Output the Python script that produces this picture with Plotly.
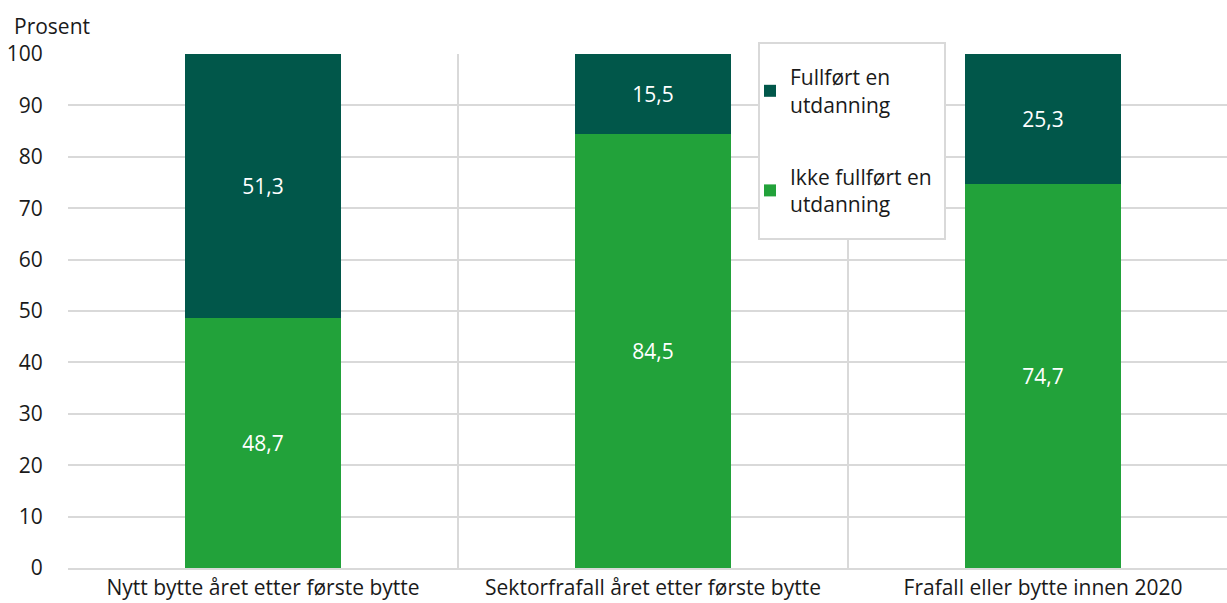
import plotly.graph_objects as go

categories = [
    "Nytt bytte året etter første bytte",
    "Sektorfrafall året etter første bytte",
    "Frafall eller bytte innen 2020",
]
ikke_fullfort = [48.7, 84.5, 74.7]
fullfort = [51.3, 15.5, 25.3]
y_ticks = [0, 10, 20, 30, 40, 50, 60, 70, 80, 90, 100]

DARK = "#01574a"
LIGHT = "#22a23a"
GRID = "#d9d9d9"
FONT = "Open Sans"
SIZE = 21

# plot area in pixels
L, T, W, H = 68, 54, 1159, 514


def px_x(p):
    return (p - L) / W


def px_y(p):
    return (T + H - p) / H


def fmt(v):
    return f"{v:.1f}".replace(".", ",")


fig = go.Figure()
fig.add_trace(go.Bar(
    x=categories, y=ikke_fullfort, name="Ikke fullført en<br>utdanning",
    marker=dict(color=LIGHT, line=dict(width=0)),
    text=[fmt(v) for v in ikke_fullfort], textposition="inside",
    insidetextanchor="middle", textfont=dict(color="white", size=SIZE, family=FONT),
    legendgroup="b", legendrank=2, width=0.4,
))
fig.add_trace(go.Bar(
    x=categories, y=fullfort, name="Fullført en<br>utdanning",
    marker=dict(color=DARK, line=dict(width=0)),
    text=[fmt(v) for v in fullfort], textposition="inside",
    insidetextanchor="middle", textfont=dict(color="white", size=SIZE, family=FONT),
    legendgroup="a", legendrank=1, width=0.4,
))

fig.update_layout(
    width=1227, height=603,
    barmode="stack",
    plot_bgcolor="white", paper_bgcolor="white",
    margin=dict(l=L, r=0, t=T, b=603 - T - H),
    font=dict(family=FONT, size=SIZE, color="#1a1a1a"),
    legend=dict(
        x=px_x(750), y=px_y(57), xanchor="left", yanchor="top",
        bgcolor="rgba(0,0,0,0)", borderwidth=0, itemwidth=30,
        traceorder="grouped", tracegroupgap=42,
        font=dict(size=SIZE, family=FONT, color="#1a1a1a"),
    ),
    xaxis=dict(
        type="category", range=[-0.5, 2.5 - 11 / 390],
        tickson="boundaries", showgrid=True, gridcolor=GRID, gridwidth=2,
        ticks="outside", ticklen=10, tickcolor="rgba(0,0,0,0)",
        showline=True, linecolor=GRID, linewidth=2,
        tickfont=dict(size=SIZE, family=FONT, color="#1a1a1a"),
        fixedrange=True,
    ),
    yaxis=dict(
        range=[0, 100], tickvals=y_ticks, ticktext=[str(v) for v in y_ticks],
        showgrid=True, gridcolor=GRID, gridwidth=2, zeroline=False,
        ticks="outside", ticklen=20, tickcolor="rgba(0,0,0,0)",
        tickfont=dict(size=SIZE, family=FONT, color="#1a1a1a"),
        fixedrange=True,
    ),
    shapes=[dict(
        type="rect", xref="paper", yref="paper", layer="above",
        x0=px_x(759), x1=px_x(945), y0=px_y(239), y1=px_y(43),
        fillcolor="white", line=dict(color=GRID, width=2),
    )],
    annotations=[dict(
        text="Prosent", xref="paper", yref="paper",
        x=px_x(12), y=px_y(26), xanchor="left", yanchor="middle",
        showarrow=False, font=dict(size=SIZE, family=FONT, color="#1a1a1a"),
    )],
)

fig.write_html("out.html")
